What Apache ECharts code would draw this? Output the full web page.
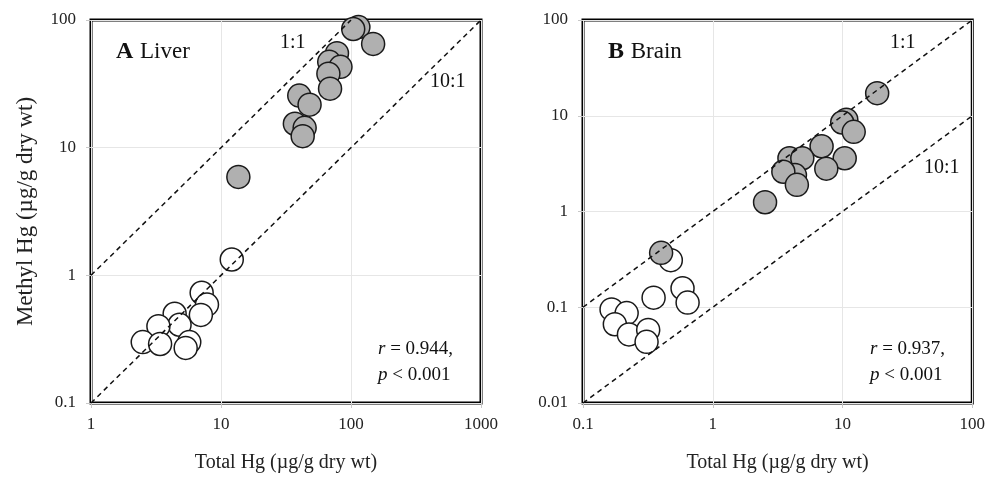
<!DOCTYPE html>
<html>
<head>
<meta charset="utf-8">
<script src="https://cdn.jsdelivr.net/npm/echarts@6.0.0/dist/echarts.min.js"></script>
<style>
html, body { margin: 0; padding: 0; background: #fff; }
#chart { width: 988px; height: 478px; }
</style>
</head>
<body>
<div id="chart"></div>
<script>
// Liver (panel A) - total Hg vs methyl Hg
const liverGreyTotal  = [114, 104, 148, 78, 68, 83, 67, 69, 40, 48, 37, 44, 42.5, 13.6];
const liverGreyMethyl = [88, 85, 65, 55, 47, 43, 38, 29, 25.6, 21.7, 15.4, 14.3, 12.3, 5.9];
const liverWhiteTotal  = [12.1, 7.1, 7.8, 7.0, 4.4, 4.8, 3.3, 2.5, 3.4, 5.7, 5.35];
const liverWhiteMethyl = [1.33, 0.73, 0.59, 0.49, 0.5, 0.41, 0.40, 0.30, 0.29, 0.30, 0.27];

// Brain (panel B)
const brainGreyTotal  = [18.5, 10.7, 9.95, 12.2, 6.9, 3.9, 4.9, 10.4, 7.5, 4.3, 3.5, 4.45, 2.53, 0.40];
const brainGreyMethyl = [17.2, 9.1, 8.5, 6.8, 4.8, 3.6, 3.6, 3.6, 2.8, 2.4, 2.6, 1.9, 1.25, 0.37];
const brainWhiteTotal  = [0.475, 0.585, 0.64, 0.35, 0.166, 0.217, 0.176, 0.226, 0.318, 0.309];
const brainWhiteMethyl = [0.31, 0.158, 0.112, 0.126, 0.095, 0.087, 0.0665, 0.052, 0.058, 0.0435];

// reference lines (1:1 and 10:1)
const liverLine11  = [[1, 1], [100, 100]];
const liverLine101 = [[1, 0.1], [1000, 100]];
const brainLine11  = [[0.1, 0.1], [100, 100]];
const brainLine101 = [[0.1, 0.01], [100, 10]];

function zip(a, b) {
    return a.map((v, i) => [v, b[i]]);
}

const serif = 'Liberation Serif, Times New Roman, serif';
const fmt = v => String(+Number(v).toPrecision(3));

function logAxis(idx, min, max, isX, name) {
    const ax = {
        type: 'log',
        logBase: 10,
        gridIndex: idx,
        min: min,
        max: max,
        axisLine: { show: false },
        axisTick: { show: true, length: 5, lineStyle: { color: '#c8c8c8' } },
        axisLabel: { formatter: fmt, fontFamily: serif, fontSize: 17, color: '#222', margin: isX ? 13 : 15 },
        splitLine: { show: true, lineStyle: { color: '#e6e6e6', width: 1 } },
        minorTick: { show: false }
    };
    if (name) {
        ax.name = name;
        ax.nameLocation = 'middle';
        ax.nameTextStyle = { fontFamily: serif, fontSize: isX ? 20 : 23, color: '#222' };
        ax.nameGap = isX ? 50 : 54;
    }
    return ax;
}

function dots(xi, data, fill) {
    return {
        type: 'scatter',
        xAxisIndex: xi,
        yAxisIndex: xi,
        data: data,
        symbolSize: 23,
        itemStyle: { color: fill, borderColor: '#1a1a1a', borderWidth: 1.5, opacity: 1 },
        z: 2
    };
}

function dashed(xi, data) {
    return {
        type: 'line',
        xAxisIndex: xi,
        yAxisIndex: xi,
        data: data,
        showSymbol: false,
        symbol: 'none',
        lineStyle: { color: '#111', width: 1.5, type: [5, 4] },
        z: 5,
        silent: true
    };
}

function label(x, y, text, size) {
    return {
        type: 'text',
        left: x,
        top: y,
        style: { text: text, fontFamily: serif, fontSize: size, fill: '#111' },
        z: 10
    };
}

function panelTitle(x, letter, name) {
    return {
        type: 'text', left: x, top: 40, z: 10,
        style: {
            text: '{b|' + letter + '}  {n|' + name + '}',
            rich: {
                b: { fontFamily: serif, fontSize: 24, fontWeight: 'bold', fill: '#111' },
                n: { fontFamily: serif, fontSize: 23, fill: '#111' }
            }
        }
    };
}

function stats(x, r) {
    return {
        type: 'text', left: x, top: 336, z: 10,
        style: {
            text: '{i|r} = ' + r + ',\n{i|p} < 0.001',
            lineHeight: 26,
            rich: {
                i: { fontFamily: serif, fontSize: 19, fontStyle: 'italic', fill: '#111', lineHeight: 26 }
            },
            fontFamily: serif, fontSize: 19, fill: '#111'
        }
    };
}

const chart = echarts.init(document.getElementById('chart'));
chart.setOption({
    backgroundColor: '#fff',
    animation: false,
    grid: [
        { left: 91, top: 20, width: 390, height: 384, show: true, borderColor: '#000', borderWidth: 3, backgroundColor: 'transparent' },
        { left: 583, top: 20, width: 390, height: 384, show: true, borderColor: '#000', borderWidth: 3, backgroundColor: 'transparent' }
    ],
    xAxis: [
        logAxis(0, 1, 1000, true, 'Total Hg (µg/g dry wt)'),
        logAxis(1, 0.1, 100, true, 'Total Hg (µg/g dry wt)')
    ],
    yAxis: [
        logAxis(0, 0.1, 100, false, 'Methyl Hg (µg/g dry wt)'),
        logAxis(1, 0.01, 100, false, null)
    ],
    series: [
        dots(0, zip(liverWhiteTotal, liverWhiteMethyl), '#ffffff'),
        dots(0, zip(liverGreyTotal, liverGreyMethyl), '#b0b0b0'),
        dashed(0, liverLine11),
        dashed(0, liverLine101),
        dots(1, zip(brainWhiteTotal, brainWhiteMethyl), '#ffffff'),
        dots(1, zip(brainGreyTotal, brainGreyMethyl), '#b0b0b0'),
        dashed(1, brainLine11),
        dashed(1, brainLine101)
    ],
    graphic: [
        panelTitle(116, 'A', 'Liver'),
        panelTitle(608, 'B', 'Brain'),
        label(280, 33, '1:1', 20),
        label(430, 72, '10:1', 20),
        label(890, 33, '1:1', 20),
        label(924, 158, '10:1', 20),
        stats(378, '0.944'),
        stats(870, '0.937')
    ]
});
</script>
</body>
</html>
